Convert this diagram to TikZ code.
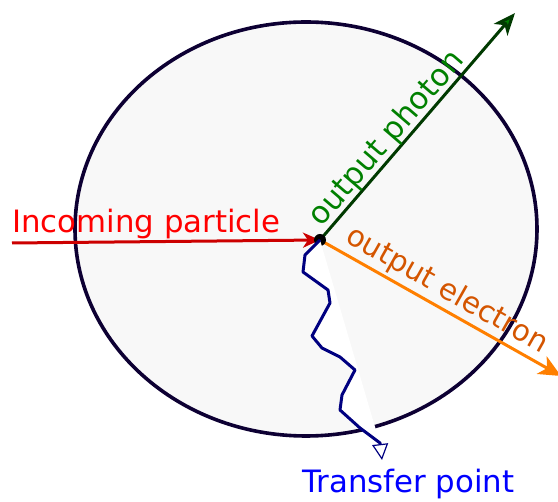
\documentclass[tikz,border=0pt]{standalone}
\usepackage{fontspec}
\setmainfont{DejaVu Sans}
\usetikzlibrary{arrows.meta}
\definecolor{chamberink}{HTML}{0D0033}
\definecolor{chamberfill}{HTML}{F8F8F8}
\definecolor{incomingink}{HTML}{CC0000}
\definecolor{incominghead}{HTML}{FF0000}
\definecolor{photonink}{HTML}{003A00}
\definecolor{photonhead}{HTML}{008000}
\definecolor{electronink}{HTML}{FF7F00}
\definecolor{electronword}{HTML}{D45500}
\definecolor{transferink}{HTML}{000080}

\begin{document}
\begin{tikzpicture}[
  x=1pt,
  y=-1pt,
  every node/.style={font=\fontsize{30.8}{36}\selectfont, inner sep=0pt},
  chamber/.style={draw=chamberink, fill=chamberfill, line width=3.6pt},
  incomingline/.style={incomingink, line width=3pt,
               -{Stealth[length=17pt, width=15pt, inset=5pt, fill=incominghead]}},
  photonline/.style={photonink, line width=3pt,
               -{Stealth[length=22pt, width=18pt, inset=6pt, fill=photonhead]}},
  electronline/.style={electronink, line width=3pt,
               -{Stealth[length=22pt, width=20pt, inset=6pt]}},
  transferline/.style={transferink, line width=3pt, line join=round,
               -{Triangle[open, length=16pt, width=16pt, line width=1.2pt]}},
  incominglbl/.style={text=incominghead},
  photonlbl/.style={text=photonhead},
  electronlbl/.style={text=electronword, font=\fontsize{29.4}{36}\selectfont},
  transferlbl/.style={text=blue}
]
  \useasboundingbox (0,0) rectangle (558,502);

  % ---- the chamber ------------------------------------------------------
  \draw[chamber] (306,229) ellipse [x radius=231, y radius=207];

  % ---- interaction point and the three tracks ---------------------------
  \coordinate (hit) at (320,240);
  \coordinate (source) at (12,243);
  \coordinate (photon) at (515,13);
  \coordinate (electron) at (561,376);

  \draw[incomingline] (source) -- (hit);
  \draw[photonline] (hit) -- (photon);
  \draw[electronline] (hit) -- (electron);

  \node[circle, fill=black, minimum size=12pt] (vertex) at (hit) {};

  % transfer track, the white fill closes back onto the vertex
  \draw[transferline, fill=white] (vertex.center) -- (305,255) -- (303,272)
    -- (328,290) -- (330,303) -- (312,336) -- (322,348) -- (340,357)
    -- (355,370) -- (342,395) -- (340,410) -- (360,428) -- (380,443)
    -- (382,460);

  % ---- labels -----------------------------------------------------------
  \node[incominglbl, anchor=base west] (incominglabel) at (12,233)
    {Incoming particle};
  \path (hit) -- (photon) node[photonlbl, pos=0.035, sloped,
    anchor=south west] (photonlabel) {output photon};
  \path (hit) -- (electron) node[electronlbl, pos=0.065, sloped,
    anchor=south west, outer sep=4pt] (electronlabel) {output electron};
  \node[transferlbl, anchor=base west] (transferlabel) at (302,493)
    {Transfer point};
\end{tikzpicture}
\end{document}
